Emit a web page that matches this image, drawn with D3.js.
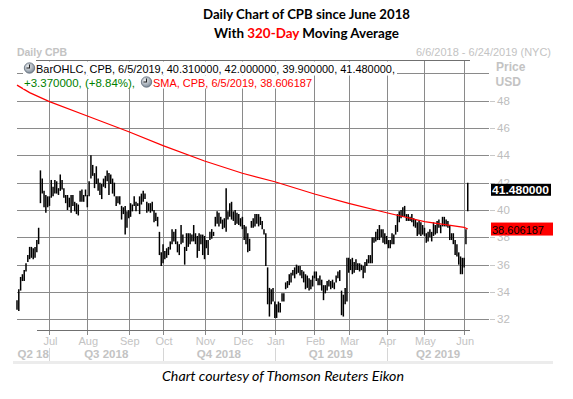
<!DOCTYPE html>
<html><head><meta charset="utf-8">
<script src="https://cdn.jsdelivr.net/npm/d3@7"></script>
<style>body{margin:0;background:#fff} svg{display:block}</style>
</head><body><div id="c"></div>
<script>
// ---- data ----
const highs = [33.4,34.2,35.1,35.3,35.6,36.1,36.7,37.3,37.3,37.2,37.3,37.8,38.7,42.9,42.3,41.4,41.1,41.0,41.0,42.2,
41.7,42.2,42.1,41.6,42.6,42.2,41.6,41.1,41.1,40.9,41.1,41.1,40.6,40.5,40.4,41.4,41.5,41.1,41.5,41.1,
42.1,44.0,43.3,42.7,43.2,42.3,42.0,41.9,42.3,42.5,42.9,42.7,42.6,42.3,42.0,41.0,41.0,41.0,40.3,40.2,
40.3,39.9,40.0,40.5,40.4,41.0,40.6,40.5,41.0,41.2,41.4,41.2,40.6,40.5,40.5,40.6,40.0,39.8,39.5,38.4,
36.9,37.5,37.0,37.2,37.3,37.7,38.6,38.4,38.6,37.7,37.5,38.9,38.2,37.3,38.3,38.3,38.3,38.2,38.9,38.3,
38.1,38.3,38.2,38.2,38.1,37.8,37.8,38.4,38.6,38.4,39.5,39.9,39.8,39.5,39.3,39.4,41.6,39.9,40.5,40.6,
39.9,40.0,39.8,39.7,39.4,39.5,38.9,38.8,38.3,37.9,39.2,39.4,39.7,39.7,39.7,39.5,39.2,38.6,38.3,35.8,
34.3,34.2,34.3,33.3,33.1,33.3,33.2,33.9,33.9,34.7,34.8,35.3,35.4,35.6,35.8,36.0,35.9,35.9,35.6,35.5,
35.3,35.2,35.0,34.9,35.2,35.5,35.5,35.0,35.2,34.9,34.5,34.5,34.8,34.9,34.8,34.9,34.7,35.2,35.5,35.6,
34.1,33.8,34.3,36.5,36.5,36.4,36.5,36.2,36.4,36.1,36.1,36.0,35.9,36.2,36.4,36.7,36.7,38.0,38.0,38.4,
38.6,38.9,38.6,38.6,38.3,38.1,37.8,37.8,38.3,38.2,38.9,39.7,39.9,40.0,40.2,40.3,39.7,39.7,39.5,39.7,
39.4,39.3,39.1,39.2,39.1,38.9,38.7,38.3,38.4,38.6,38.4,39.1,38.9,39.2,39.3,38.9,39.5,39.5,39.3,39.2,
38.9,38.3,38.3,37.8,37.5,36.9,36.6,36.5,36.5,38.6,42.0];
const lows = [32.7,32.6,34.1,34.8,34.8,35.5,36.2,36.4,36.5,36.4,36.5,36.9,37.5,40.5,41.2,40.2,39.8,40.2,40.3,40.9,
41.0,41.2,41.2,41.1,41.4,41.5,40.9,40.5,40.0,40.2,39.8,40.3,39.9,39.7,39.6,40.6,40.6,40.6,41.0,40.2,
41.0,42.3,42.5,41.6,41.9,41.4,41.1,40.8,41.7,41.6,42.1,41.1,41.9,41.2,41.0,40.3,40.5,40.4,39.3,39.7,
38.2,38.7,39.4,39.5,39.9,40.3,39.9,40.3,39.7,40.4,40.6,40.8,39.8,39.9,39.8,39.9,39.1,39.2,38.8,36.7,
35.9,36.1,36.4,36.5,36.7,37.1,37.5,37.7,37.5,36.9,36.7,37.5,37.6,36.0,37.0,37.3,37.5,37.7,37.7,37.5,
36.5,37.0,37.5,36.7,36.4,37.2,36.7,37.8,37.9,38.1,38.8,39.0,38.8,39.0,38.6,38.7,38.4,39.3,39.5,39.3,
39.2,38.9,39.0,38.9,38.8,38.6,37.8,37.5,36.9,37.0,38.7,38.7,38.8,39.0,38.8,38.9,38.6,38.2,35.9,33.1,
32.2,33.1,33.3,32.1,32.1,32.5,32.5,33.3,33.3,34.2,34.3,34.5,34.7,35.2,35.0,35.3,35.4,35.2,35.0,34.7,
34.2,34.3,34.1,34.2,34.4,35.0,34.8,34.5,34.5,34.1,33.4,33.9,34.1,34.4,34.2,34.3,34.2,34.7,35.0,34.8,
32.3,32.2,33.1,33.3,35.4,35.6,35.3,35.4,35.6,35.6,35.5,35.6,35.0,35.4,35.9,36.1,36.1,36.1,37.6,37.7,
37.8,37.8,38.0,37.6,37.5,37.5,37.2,37.2,37.5,37.5,38.2,38.4,39.1,39.4,39.5,39.5,39.2,39.2,39.2,39.1,
38.8,38.7,38.1,38.2,38.1,38.2,38.1,37.6,37.7,38.0,37.7,38.1,38.2,38.3,38.7,38.3,38.8,38.8,38.8,38.7,
37.8,37.8,37.5,36.7,36.6,36.0,35.3,35.3,35.8,37.5,39.9];
const smaIdx  = [0, 7, 18, 39, 62, 81, 104, 125, 143, 165, 184, 205, 226, 248, 250];
const smaVals = [49.14, 48.59, 47.93, 46.88, 45.73, 44.71, 43.59, 42.69, 42.07, 41.17, 40.49, 39.8, 39.15, 38.73, 38.606187];
const yTicks = [32, 34, 36, 38, 40, 42, 44, 46, 48];
const yGrid = [32, 34, 36, 38, 40, 42, 44, 46, 48, 50];
const monthLabels = ["Jul","Aug","Sep","Oct","Nov","Dec","Jan","Feb","Mar","Apr","May","Jun"];
const monthIdx = [18, 39, 62, 81, 104, 125, 143, 165, 184, 205, 226, 248];
const quarterLabels = ["Q2 18","Q3 2018","Q4 2018","Q1 2019","Q2 2019"];
const quarterStart = [0, 18, 81, 143, 205];
const lastIdx = 262; // 6/24/2019 end of range
const lastBarText = "BarOHLC, CPB, 6/5/2019, 40.310000, 42.000000, 39.900000, 41.480000,";
const changeText = "+3.370000, (+8.84%),";
const smaText = "SMA, CPB, 6/5/2019, 38.606187";
const lastClose = 41.48;
const lastSma = 38.606187;

// ---- drawing ----
const W = 573, H = 399;
const svg = d3.select("#c").append("svg").attr("width", W).attr("height", H);
const x = d3.scaleLinear().domain([0, 250]).range([17, 467.75]);
const y = d3.scaleLinear().domain([32, 48]).range([319.3, 100.7]);
const small = "'Liberation Sans', Arial, sans-serif";
const lg = "#c3c3c3";

// title
const t1 = svg.append("text").attr("x", 306.5).attr("y", 19).attr("text-anchor","middle")
  .attr("font-family","Lato, sans-serif").attr("font-weight","bold").attr("font-size",14)
  .attr("textLength",207).attr("lengthAdjust","spacingAndGlyphs").text("Daily Chart of CPB since June 2018");
const t2 = svg.append("text").attr("x", 306.5).attr("y", 38).attr("text-anchor","middle")
  .attr("font-family","Lato, sans-serif").attr("font-weight","bold").attr("font-size",14)
  .attr("textLength",185).attr("lengthAdjust","spacingAndGlyphs");
t2.append("tspan").text("With ");
t2.append("tspan").attr("fill","#ff0000").text("320-Day");
t2.append("tspan").text(" Moving Average");

// header texts
svg.append("text").attr("x",17).attr("y",56).attr("font-family",small).attr("font-weight","bold")
  .attr("font-size",11.5).attr("fill",lg).attr("textLength",50).attr("lengthAdjust","spacingAndGlyphs").text("Daily CPB");
svg.append("text").attr("x",416).attr("y",56).attr("font-family",small)
  .attr("font-size",11.5).attr("fill",lg).attr("textLength",135).attr("lengthAdjust","spacingAndGlyphs").text("6/6/2018 - 6/24/2019 (NYC)");
svg.append("text").attr("x",496).attr("y",71).attr("font-family",small).attr("font-weight","bold")
  .attr("font-size",12).attr("fill",lg).text("Price");
svg.append("text").attr("x",495.5).attr("y",86).attr("font-family",small).attr("font-weight","bold")
  .attr("font-size",12).attr("fill",lg).text("USD");

// grid
const g = svg.append("g").attr("shape-rendering","crispEdges");
g.selectAll("line.h").data(yGrid).join("line").attr("class","h")
  .attr("x1", x(0)).attr("x2", x(lastIdx)).attr("y1", d => Math.round(y(d))+0.5).attr("y2", d => Math.round(y(d))+0.5)
  .attr("stroke","#8a8a8a").attr("stroke-width",1);
g.selectAll("line.v").data(monthIdx).join("line").attr("class","v")
  .attr("x1", d => Math.round(x(d))+0.5).attr("x2", d => Math.round(x(d))+0.5)
  .attr("y1", 61).attr("y2", 335).attr("stroke","#8a8a8a");
// frame top & bottom
g.append("line").attr("x1",36).attr("x2",470).attr("y1",60.5).attr("y2",60.5).attr("stroke","#707070");
g.append("line").attr("x1",37).attr("x2",470).attr("y1",330.5).attr("y2",330.5).attr("stroke","#707070");

// y tick labels
const yl = svg.append("g");
yl.selectAll("line").data(yTicks).join("line").attr("shape-rendering","crispEdges")
  .attr("x1",490).attr("x2",495).attr("y1",d=>Math.round(y(d))+0.5).attr("y2",d=>Math.round(y(d))+0.5).attr("stroke","#c8c8c8");
yl.selectAll("text").data(yTicks).join("text").attr("x",497).attr("y",d=>y(d)+4)
  .attr("font-family",small).attr("font-size",11.5).attr("fill","#bdbdbd").text(d=>d);

// month & quarter labels
svg.selectAll("text.m").data(monthLabels).join("text").attr("class","m")
  .attr("x",(d,i)=>x(monthIdx[i])+1).attr("y",345).attr("text-anchor","middle")
  .attr("font-family",small).attr("font-size",11).attr("fill","#c3c3c3").text(d=>d);
const qEnd = quarterStart.slice(1).concat([lastIdx]);
svg.selectAll("text.q").data(quarterLabels).join("text").attr("class","q")
  .attr("x",(d,i)=>(x(quarterStart[i])+x(qEnd[i]))/2).attr("y",358).attr("text-anchor","middle")
  .attr("font-family",small).attr("font-weight","bold").attr("font-size",11.5).attr("fill","#c3c3c3").text(d=>d);
svg.selectAll("line.qs").data(quarterStart.slice(1)).join("line").attr("class","qs").attr("shape-rendering","crispEdges")
  .attr("x1",d=>Math.round(x(d))+0.5).attr("x2",d=>Math.round(x(d))+0.5).attr("y1",348).attr("y2",361).attr("stroke","#d6d6d6");
svg.append("rect").attr("x",13).attr("y",361).attr("width",540).attr("height",3).attr("fill","#ececec");

// caption
svg.append("text").attr("x",283).attr("y",381).attr("text-anchor","middle")
  .attr("font-family","Lato, sans-serif").attr("font-style","italic").attr("font-size",14)
  .attr("textLength",242).attr("lengthAdjust","spacingAndGlyphs").text("Chart courtesy of Thomson Reuters Eikon");

// bars
const bars = highs.map((h,i)=>({i, h, l: lows[i]}));
svg.append("g").selectAll("line").data(bars).join("line")
  .attr("x1",d=>x(d.i)).attr("x2",d=>x(d.i)).attr("y1",d=>y(d.h)).attr("y2",d=>y(d.l))
  .attr("stroke","#000").attr("stroke-width",1.5);

// SMA
const smaPts = smaIdx.map((k,i)=>[x(k), y(smaVals[i])]);
svg.append("path").attr("d", d3.line()(smaPts)).attr("fill","none").attr("stroke","#ff0000").attr("stroke-width",1.2);

// legend backgrounds and text
svg.append("rect").attr("x",23).attr("y",61.5).attr("width",374).attr("height",14).attr("fill","#fff");
svg.append("rect").attr("x",23).attr("y",75.5).attr("width",291).attr("height",13).attr("fill","#fff");
const defs = svg.append("defs");
const rg = defs.append("radialGradient").attr("id","ball").attr("cx","40%").attr("cy","35%").attr("r","65%");
rg.append("stop").attr("offset","0%").attr("stop-color","#f4f6f8");
rg.append("stop").attr("offset","100%").attr("stop-color","#7d8a98");
function clock(cx, cy){
  svg.append("circle").attr("cx",cx).attr("cy",cy).attr("r",5.2).attr("fill","url(#ball)").attr("stroke","#5f6b78").attr("stroke-width",0.8);
  svg.append("path").attr("d",`M${cx},${cy-3.5} L${cx},${cy} L${cx-3},${cy}`).attr("fill","none").attr("stroke","#222").attr("stroke-width",1.1);
}
clock(29.5, 68);
clock(146.5, 82);
svg.append("text").attr("x",36).attr("y",72.5).attr("font-family",small).attr("font-size",11.5)
  .attr("textLength",359).attr("lengthAdjust","spacingAndGlyphs").attr("fill","#000").text(lastBarText);
svg.append("text").attr("x",24).attr("y",87).attr("font-family",small).attr("font-size",11.5)
  .attr("textLength",111).attr("lengthAdjust","spacingAndGlyphs").attr("fill","#008000").text(changeText);
svg.append("text").attr("x",153).attr("y",87).attr("font-family",small).attr("font-size",11.5)
  .attr("textLength",159).attr("lengthAdjust","spacingAndGlyphs").attr("fill","#ff0000").text(smaText);

// last value boxes
svg.append("rect").attr("x",491).attr("y",y(lastClose)-6).attr("width",60).attr("height",12).attr("fill","#000");
svg.append("text").attr("x",492).attr("y",y(lastClose)+4.5).attr("font-family",small).attr("font-weight","bold")
  .attr("font-size",11.5).attr("fill","#fff").attr("textLength",57).attr("lengthAdjust","spacingAndGlyphs").text(lastClose.toFixed(6));
svg.append("rect").attr("x",491).attr("y",y(lastSma)-6.5).attr("width",62).attr("height",13).attr("fill","#ff0000");
svg.append("text").attr("x",492).attr("y",y(lastSma)+4.5).attr("font-family",small)
  .attr("font-size",11.5).attr("fill","#000").attr("textLength",52).attr("lengthAdjust","spacingAndGlyphs").text(lastSma.toFixed(6));
</script></body></html>
